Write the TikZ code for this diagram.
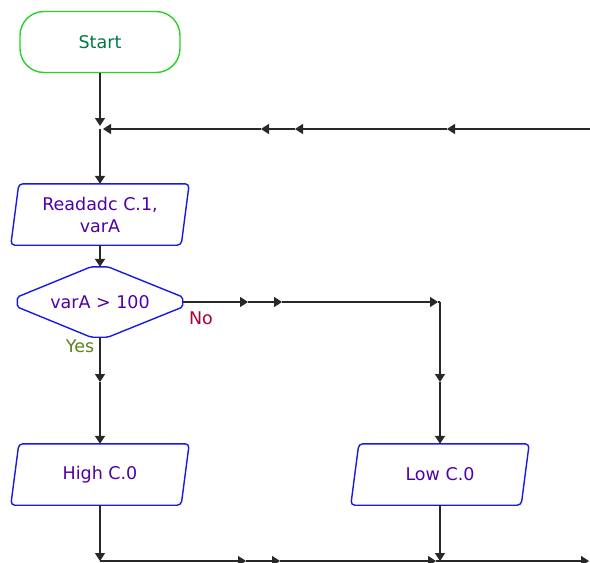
\documentclass[tikz,border=0pt]{standalone}
\usepackage{fontspec}
\setmainfont{DejaVu Sans}
\usetikzlibrary{arrows.meta}
\definecolor{txtc}{RGB}{80,0,165}
\definecolor{startc}{RGB}{0,120,70}
\definecolor{noc}{RGB}{170,0,50}
\definecolor{yesc}{RGB}{95,130,30}
\definecolor{blueb}{RGB}{25,25,230}
\definecolor{greenb}{RGB}{40,210,40}
\definecolor{linec}{RGB}{40,40,40}
\newcommand\ioshape[1]{\draw[blueb,line width=1.4pt,rounded corners=4pt]
  ([xshift=4pt]#1.north west) -- ([xshift=4pt]#1.north east) --
  ([xshift=-4pt]#1.south east) -- ([xshift=-4pt]#1.south west) -- cycle;}
\begin{document}
\begin{tikzpicture}[x=1pt,y=-1pt,
  every node/.style={font=\fontsize{17.5}{22}\selectfont},
  line/.style={draw=linec, line width=1.6pt},
  arr/.style={line, -{Triangle[width=10pt,length=8pt]}},
  io/.style={rectangle, minimum width=170pt, minimum height=61pt, inner sep=0pt, text=txtc, align=center}]
\useasboundingbox (0,0) rectangle (590,563);
% nodes
\node[draw=greenb, line width=1.4pt, rounded corners=24pt, minimum width=160pt,
  minimum height=61pt, text=startc, inner sep=0pt] (start) at (100,42) {Start};
\node[io] (read) at (100,214.5) {Readadc C.1,\\varA};
\ioshape{read}
\node[rectangle, minimum width=165pt, minimum height=70pt, inner sep=0pt, text=txtc] (dec) at (100,302) {varA \textgreater{} 100};
\draw[blueb, line width=1.4pt, rounded corners=2pt]
  ([yshift=5pt]dec.west) -- ([xshift=-9pt]dec.north) -- ([xshift=8pt]dec.north) --
  ([yshift=5pt]dec.east) -- ([yshift=-5pt]dec.east) -- ([xshift=8pt]dec.south) --
  ([xshift=-9pt]dec.south) -- ([yshift=-5pt]dec.west) -- cycle;
\node[io] (high) at (100,474.5) {High C.0};
\ioshape{high}
\node[io] (low) at (440,474.5) {Low C.0};
\ioshape{low}
\node[text=noc, inner sep=0pt] (no) at (201,318) {No};
\node[text=yesc, inner sep=0pt] (yes) at (80,346) {Yes};
% coordinates
\coordinate (j1) at (100,129);
\coordinate (t0) at (590,129);
\coordinate (t1) at (447,129);
\coordinate (t2) at (295,129);
\coordinate (t3) at (261,129);
\coordinate (r1) at (248,302);
\coordinate (r2) at (282,302);
\coordinate (c1) at (440,302);
\coordinate (r3) at (440,382);
\coordinate (y1) at (100,382);
\coordinate (b0) at (100,561);
\coordinate (b1) at (246,561);
\coordinate (b2) at (280,561);
\coordinate (b3) at (436,561);
\coordinate (b4) at (589,561);
\coordinate (b5) at (440,561);
% connectors
\draw[arr, shorten >=3pt] (start) -- (j1);
\draw[arr] (j1) -- (read);
\draw[arr] (t0) -- (t1);
\draw[arr] (t1) -- (t2);
\draw[arr] (t2) -- (t3);
\draw[arr] (t3) -- ([xshift=3pt]j1);
\draw[arr] (read) -- (dec);
\draw[arr] (dec.east) -- (r1);
\draw[arr] (r1) -- (r2);
\draw[arr, shorten >=2pt] (r2) -- (c1);
\draw[line] ([xshift=-2pt]c1) -- (c1);
\draw[arr] (c1) -- (r3);
\draw[arr] (r3) -- (low);
\draw[arr] (dec.south) -- (y1);
\draw[arr] (y1) -- (high);
\draw[arr] (high) -- (b0);
\draw[arr] (b0) -- (b1);
\draw[arr] (b1) -- (b2);
\draw[arr] (b2) -- (b3);
\draw[arr] (b3) -- (b4);
\draw[arr] (low) -- (b5);
\end{tikzpicture}
\end{document}
